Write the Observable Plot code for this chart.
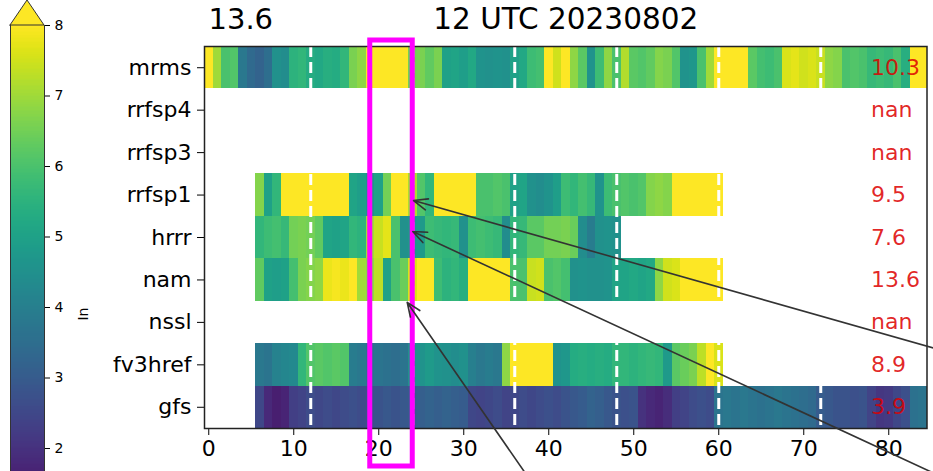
<!DOCTYPE html>
<html><head><meta charset="utf-8">
<script src="https://cdn.jsdelivr.net/npm/d3@7"></script>
<script src="https://cdn.jsdelivr.net/npm/@observablehq/plot@0.6"></script>
<style>
html,body{margin:0;padding:0;background:#fff;}
#wrap{position:relative;width:933px;height:471px;overflow:hidden;background:#fff;}
#wrap svg{position:absolute;left:0;top:0;}
</style></head><body><div id="wrap"></div>
<script>
// ---- data ----
const rowLabels = ["mrms","rrfsp4","rrfsp3","rrfsp1","hrrr","nam","nssl","fv3href","gfs"];
const totals = ["10.3","nan","nan","9.5","7.6","13.6","nan","8.9","3.9"];
const titleLeft = "13.6";
const titleCenter = "12 UTC 20230802";
const xTicks = [0,10,20,30,40,50,60,70,80];
const dashHours = [12,24,36,48,60,72];
const highlightHours = [19,24];
const cbarTicks = [2,3,4,5,6,7,8];
const colorDomain = [1,8];
const colorLabel = "In";

// hourly values; first hour of each series
const mrmsStart = 0;
const mrms = [8,7,6,6.1,3.8,3.4,3.2,3.5,4.5,4.4,
  5.5,5.6,5.3,5.2,5.4,5.3,5.6,6.6,6.8,8,
  8,8,8,8,6.5,6.6,6.3,6.6,5.0,5.1,
  4.9,5.2,4.6,4.5,4.6,4.5,5.0,5.2,5.8,5.9,
  8,7.5,8,6.8,6.2,4.6,5.8,6.8,6.0,7.2,
  6.2,6.1,6.3,6.7,6.6,6.1,4.6,4.7,6.0,7.0,
  8,8,8,8,6.2,5.9,5.8,6.0,7.6,7.7,
  7.5,7.6,7.4,6.8,6.7,6.0,6.1,6.0,5.7,5.8,
  5.7,6.0,5.4,8,8];
const rrfsp1Start = 6;
const rrfsp1 = [6.7,5.0,5.6,8,8,8,8,8,8,8,
  8,5.1,4.9,4.6,5.0,6.5,8,8,7.1,6.1,
  5.6,8,8,8,8,8,6.0,6.0,6.1,6.0,
  5.0,5.1,4.5,4.4,4.6,4.9,5.8,5.6,5.9,5.7,
  4.6,5.8,6.0,6.1,6.0,6.1,6.7,6.8,6.7,8,
  8,8,8,8,8];
const hrrrStart = 6;
const hrrr = [5.6,5.8,5.9,5.7,6.5,6.6,6.5,6.3,5.1,5.0,
  5.1,5.6,5.5,7.0,7.4,7.7,6.0,4.5,4.7,4.8,
  5.8,5.7,5.6,5.7,4.5,5.8,5.9,5.8,5.7,4.4,
  5.6,5.7,6.2,6.2,6.5,6.5,6.6,6.4,4.4,3.9,
  4.5,4.6,4.5];
const namStart = 6;
const nam = [6.3,5.0,4.9,5.0,5.9,6.6,6.7,6.8,7.8,7.9,
  7.8,8,7.0,6.8,7.3,5.0,6.0,6.4,7.6,8,
  8,5.8,5.5,5.6,5.4,8,8,8,8,8,
  6.0,6.0,7.4,7.5,6.0,6.1,5.9,4.5,4.6,4.5,
  4.5,4.6,5.1,5.1,5.2,5.1,5.2,6.8,7.5,7.6,
  8,8,8,8,8];
const fv3hrefStart = 6;
const fv3href = [3.8,3.7,4.1,4.2,4.3,5.6,6.1,6.2,6.1,6.2,
  6.1,3.9,3.8,3.6,3.7,3.6,3.5,3.7,4.5,4.6,
  4.8,4.6,4.5,4.4,4.5,4.0,3.8,3.9,3.8,6.8,
  8,8,8,8,8,4.6,4.7,5.3,5.4,5.3,
  5.4,5.3,5.6,5.6,5.5,5.6,5.7,5.6,4.8,6.2,
  6.4,6.6,7.3,8,7.6];
const gfsStart = 6;
const gfs = [2.5,1.8,1.6,1.7,2.3,2.4,2.6,2.5,2.6,2.5,
  2.6,2.7,2.6,2.7,2.8,2.9,2.8,2.9,3.0,3.1,
  3.2,3.1,3.2,3.1,3.0,2.5,2.4,2.5,2.6,2.4,
  2.5,2.6,2.5,2.6,2.7,2.6,2.8,2.9,3.0,3.2,
  3.1,2.9,2.8,2.7,2.8,2.0,1.8,1.7,1.9,2.3,
  2.4,2.6,2.7,2.6,3.7,3.8,3.7,3.8,3.7,3.6,
  3.7,3.8,3.7,3.6,3.5,3.4,3.0,2.9,2.8,2.8,
  2.7,2.8,2.4,2.1,2.2,2.5,2.7,3.6,3.7];

// annotation arrows: tail (hour,row) -> head (hour,row)
const arrowTailHour = [88.4, 88.4, 39.0];
const arrowTailRow  = [1.22, -1.84, -2.06];
const arrowHeadHour = [24.1, 24.0, 23.35];
const arrowHeadRow  = [4.87, 4.14, 2.47];

// ---- build table ----
const seriesTable = [
  {name:"mrms", start:mrmsStart, values:mrms},
  {name:"rrfsp1", start:rrfsp1Start, values:rrfsp1},
  {name:"hrrr", start:hrrrStart, values:hrrr},
  {name:"nam", start:namStart, values:nam},
  {name:"fv3href", start:fv3hrefStart, values:fv3href},
  {name:"gfs", start:gfsStart, values:gfs}
];
const nRows = rowLabels.length;
const rowPos = name => nRows - 1 - rowLabels.indexOf(name);
const cells = [];
for (const s of seriesTable) {
  s.values.forEach((v, k) => cells.push({row: rowPos(s.name), hour: s.start + k, value: v}));
}
const totalRows = totals.map((t, i) => ({text: t, row: nRows - 1 - i}));
const arrows = arrowTailHour.map((_, i) => ({x1: arrowTailHour[i], y1: arrowTailRow[i], x2: arrowHeadHour[i], y2: arrowHeadRow[i]}));

const FONT = "DejaVu Sans, sans-serif";
const color = {type: "linear", scheme: "viridis", domain: colorDomain, clamp: true};

const main = Plot.plot({
  width: 933, height: 471,
  marginLeft: 204, marginRight: 6.5, marginTop: 46, marginBottom: 43,
  style: {fontFamily: FONT, fontSize: "22px", background: "transparent", color: "black"},
  x: {domain: [-0.5, 84.5], ticks: xTicks, tickSize: 7, tickPadding: 5, label: null},
  y: {domain: [-0.5, nRows - 0.5], ticks: d3.range(nRows), tickFormat: i => rowLabels[nRows - 1 - i], tickSize: 7, tickPadding: 6, label: null},
  color,
  marks: [
    Plot.rect(cells, {x1: d => d.hour - 0.5, x2: d => d.hour + 0.5, y1: d => d.row - 0.5, y2: d => d.row + 0.5, fill: "value", inset: 0, shapeRendering: "crispEdges"}),
    Plot.ruleX(dashHours, {stroke: "white", strokeWidth: 3, strokeDasharray: "11,5"}),
    Plot.text(totalRows, {y: "row", text: "text", frameAnchor: "right", dx: -56, textAnchor: "start", fill: "#dd0000", fillOpacity: 0.85, fontSize: 22}),
    Plot.frame({stroke: "#222", strokeWidth: 1.5}),
    Plot.rect([highlightHours], {x1: d => d[0], x2: d => d[1], fill: "none", stroke: "magenta", strokeWidth: 5, insetTop: -6, insetBottom: -38, clip: false}),
    Plot.arrow(arrows, {x1: "x1", y1: "y1", x2: "x2", y2: "y2", stroke: "#333", strokeWidth: 1.6, headLength: 14, headAngle: 45, clip: false}),
    Plot.text([titleLeft], {frameAnchor: "top-left", dx: 4, dy: -27, textAnchor: "start", lineAnchor: "middle", fontSize: 29}),
    Plot.text([titleCenter], {frameAnchor: "top", dy: -27, lineAnchor: "middle", fontSize: 29.5})
  ]
});

// colorbar
const cbMin = 1.674;
const cbTop = 8.355;
const cbSteps = d3.range(cbMin, colorDomain[1], 0.02);
const cbar = Plot.plot({
  width: 110, height: 471,
  marginLeft: 10, marginRight: 66, marginTop: 25, marginBottom: 0,
  style: {fontFamily: FONT, fontSize: "14px", background: "transparent", color: "black", overflow: "visible"},
  x: {domain: [0, 1], axis: null},
  y: {domain: [cbMin, colorDomain[1]], ticks: cbarTicks, tickFormat: d => String(d), tickSize: 5, tickPadding: 5, axis: "right", label: null},
  color,
  marks: [
    Plot.rect(cbSteps, {x1: 0, x2: 1, y1: d => d, y2: d => d + 0.022, fill: d => d + 0.01, shapeRendering: "crispEdges"}),
    Plot.areaY([0, 0.5, 1], {x: d => d, y1: colorDomain[1], y2: d => d === 0.5 ? cbTop : colorDomain[1], fill: d3.interpolateViridis(1), stroke: "#333", strokeWidth: 1, clip: false}),
    Plot.ruleX([0, 1], {stroke: "#333", strokeWidth: 1}),
    Plot.text([{label: colorLabel, v: 4}], {y: "v", text: "label", frameAnchor: "right", dx: 39, rotate: -90, fontSize: 14})
  ]
});

const wrap = document.getElementById("wrap");
wrap.appendChild(main);
wrap.appendChild(cbar);
</script></body></html>
